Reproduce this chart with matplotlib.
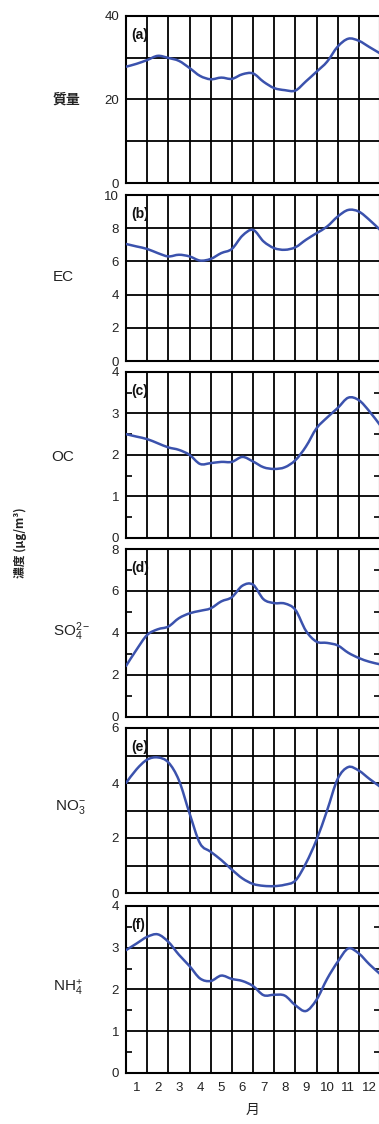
import numpy as np
import matplotlib
matplotlib.use("Agg")
import matplotlib.pyplot as plt
from matplotlib.path import Path
from matplotlib.patches import PathPatch
from matplotlib.ticker import MultipleLocator, FixedLocator

plt.rcParams['font.family'] = ['Liberation Sans', 'Noto Sans CJK JP', 'DejaVu Sans']
plt.rcParams['mathtext.fontset'] = 'custom'
plt.rcParams['mathtext.rm'] = 'Liberation Sans'
plt.rcParams['mathtext.it'] = 'Liberation Sans'

# month position (0 = start of Jan, 12 = end of Dec), read every half month
months_x = np.arange(0, 12.5, 0.5)
month_labels = [str(m) for m in range(1, 13)]

mass = [27.8, 28.5, 29.4, 30.4, 29.9, 29.2, 27.5, 25.6, 24.8, 25.2, 24.9, 26.0, 26.2,
        24.2, 22.7, 22.2, 22.1, 24.3, 26.6, 29.0, 32.6, 34.5, 34.0, 32.5, 31.0]
ec = [7.05, 6.9, 6.75, 6.5, 6.3, 6.4, 6.3, 6.05, 6.15, 6.5, 6.75, 7.55, 7.9,
      7.2, 6.8, 6.7, 6.85, 7.3, 7.7, 8.1, 8.7, 9.1, 9.0, 8.5, 7.9]
oc = [2.5, 2.44, 2.38, 2.28, 2.18, 2.12, 2.0, 1.78, 1.8, 1.83, 1.83, 1.95, 1.84,
      1.7, 1.66, 1.7, 1.87, 2.2, 2.64, 2.9, 3.13, 3.38, 3.32, 3.05, 2.72]
so4 = [2.42, 3.2, 3.9, 4.17, 4.3, 4.7, 4.93, 5.05, 5.17, 5.5, 5.7, 6.25, 6.3,
       5.6, 5.42, 5.4, 5.1, 4.1, 3.58, 3.52, 3.4, 3.05, 2.8, 2.62, 2.5]
no3 = [4.0, 4.5, 4.85, 4.93, 4.75, 4.1, 2.9, 1.8, 1.5, 1.2, 0.85, 0.53, 0.33,
       0.26, 0.25, 0.3, 0.45, 1.08, 1.93, 3.0, 4.15, 4.58, 4.45, 4.15, 3.87]
nh4 = [2.94, 3.1, 3.26, 3.32, 3.14, 2.83, 2.56, 2.26, 2.2, 2.33, 2.25, 2.2, 2.08,
       1.86, 1.87, 1.85, 1.62, 1.48, 1.75, 2.25, 2.66, 2.98, 2.86, 2.6, 2.37]

names = ['質量', 'EC', 'OC', 'SO$_4^{2-}$', 'NO$_3^{-}$', 'NH$_4^{+}$']
letters = ['(a)', '(b)', '(c)', '(d)', '(e)', '(f)']
series = [mass, ec, oc, so4, no3, nh4]
ymax = [40, 10, 4, 8, 6, 4]
grid_step = [10, 2, 1, 2, 1, 1]
label_step = [20, 2, 1, 2, 2, 1]
minor_step = [None, None, 0.5, 1, None, 0.5]

W, H = 379, 1124
panels_px = [(15.7, 183), (195, 361), (372, 537.7), (549, 716.7), (728, 893), (906, 1072.7)]
name_pos = [(66, 100), (63, 277), (63, 457), (72, 632), (70, 807), (68, 988)]
x0, x1 = 126, 380
line_color = '#3b52ad'
txt_color = '#222222'


def smooth_path(x, y):
    # Catmull-Rom curve through the read points, as cubic Bezier segments
    x = np.asarray(x, float)
    y = np.asarray(y, float)
    verts = [(x[0], y[0])]
    codes = [Path.MOVETO]
    n = len(x)
    for k in range(n - 1):
        p0 = (x[max(k - 1, 0)], y[max(k - 1, 0)])
        p1 = (x[k], y[k])
        p2 = (x[k + 1], y[k + 1])
        p3 = (x[min(k + 2, n - 1)], y[min(k + 2, n - 1)])
        c1 = (p1[0] + (p2[0] - p0[0]) / 6, p1[1] + (p2[1] - p0[1]) / 6)
        c2 = (p2[0] - (p3[0] - p1[0]) / 6, p2[1] - (p3[1] - p1[1]) / 6)
        verts += [c1, c2, p2]
        codes += [Path.CURVE4] * 3
    return Path(verts, codes)


fig = plt.figure(figsize=(W / 100, H / 100), dpi=100)

for i in range(6):
    top, bot = panels_px[i]
    ax = fig.add_axes([x0 / W, 1 - bot / H, (x1 - x0) / W, (bot - top) / H])
    ax.add_patch(PathPatch(smooth_path(months_x, series[i]), fill=False,
                           edgecolor=line_color, lw=1.8, zorder=3, capstyle='round'))
    ax.set_xlim(0, 12)
    ax.set_ylim(0, ymax[i])

    for v in np.arange(grid_step[i], ymax[i], grid_step[i]):
        ax.axhline(v, color='black', lw=1.3, zorder=2)
    for m in range(1, 12):
        ax.axvline(m, color='black', lw=1.3, zorder=2)

    ticks = np.arange(0, ymax[i] + 0.01, label_step[i])
    ax.set_yticks(ticks)
    ax.set_yticklabels([f"{v:g}" for v in ticks])
    ax.tick_params(axis='y', which='major', length=0, pad=5, labelsize=9.5, labelcolor=txt_color)
    if minor_step[i]:
        ax.yaxis.set_minor_locator(MultipleLocator(minor_step[i]))
        ax.tick_params(axis='y', which='minor', direction='in', length=4, width=1.2,
                       left=True, right=True)

    ax.set_xticks([])
    if i == 5:
        ax.set_xticks(np.arange(0.5, 12, 1), minor=True)
        ax.set_xticklabels(month_labels, minor=True)
        ax.tick_params(axis='x', which='minor', length=0, pad=7, labelsize=9.5, labelcolor=txt_color)
    for s in ax.spines.values():
        s.set_linewidth(1.5)
        s.set_color('black')

    ax.text(0.02, 0.885, letters[i], transform=ax.transAxes, ha='left', va='center',
            fontsize=10, fontweight='bold', color='#111111', zorder=4)

    nx, ny = name_pos[i]
    if i == 0:
        fig.text(nx / W, 1 - ny / H, names[i], ha='center', va='center', fontsize=10,
                 fontweight='bold', family=['Noto Sans CJK JP', 'DejaVu Sans'], color=txt_color)
    else:
        fig.text(nx / W, 1 - ny / H, names[i], ha='center', va='center', fontsize=11,
                 color=txt_color)

fig.text(20 / W, 1 - 543 / H, '濃度 (μg/m³)', rotation=90, ha='center', va='center',
         fontsize=8.5, fontweight='bold', family=['Noto Sans CJK JP', 'DejaVu Sans'],
         color=txt_color)
fig.text(253 / W, 1 - 1110 / H, '月', ha='center', va='center', fontsize=10,
         family=['Noto Sans CJK JP', 'DejaVu Sans'], color=txt_color)

fig.savefig('out.png', dpi=100)
